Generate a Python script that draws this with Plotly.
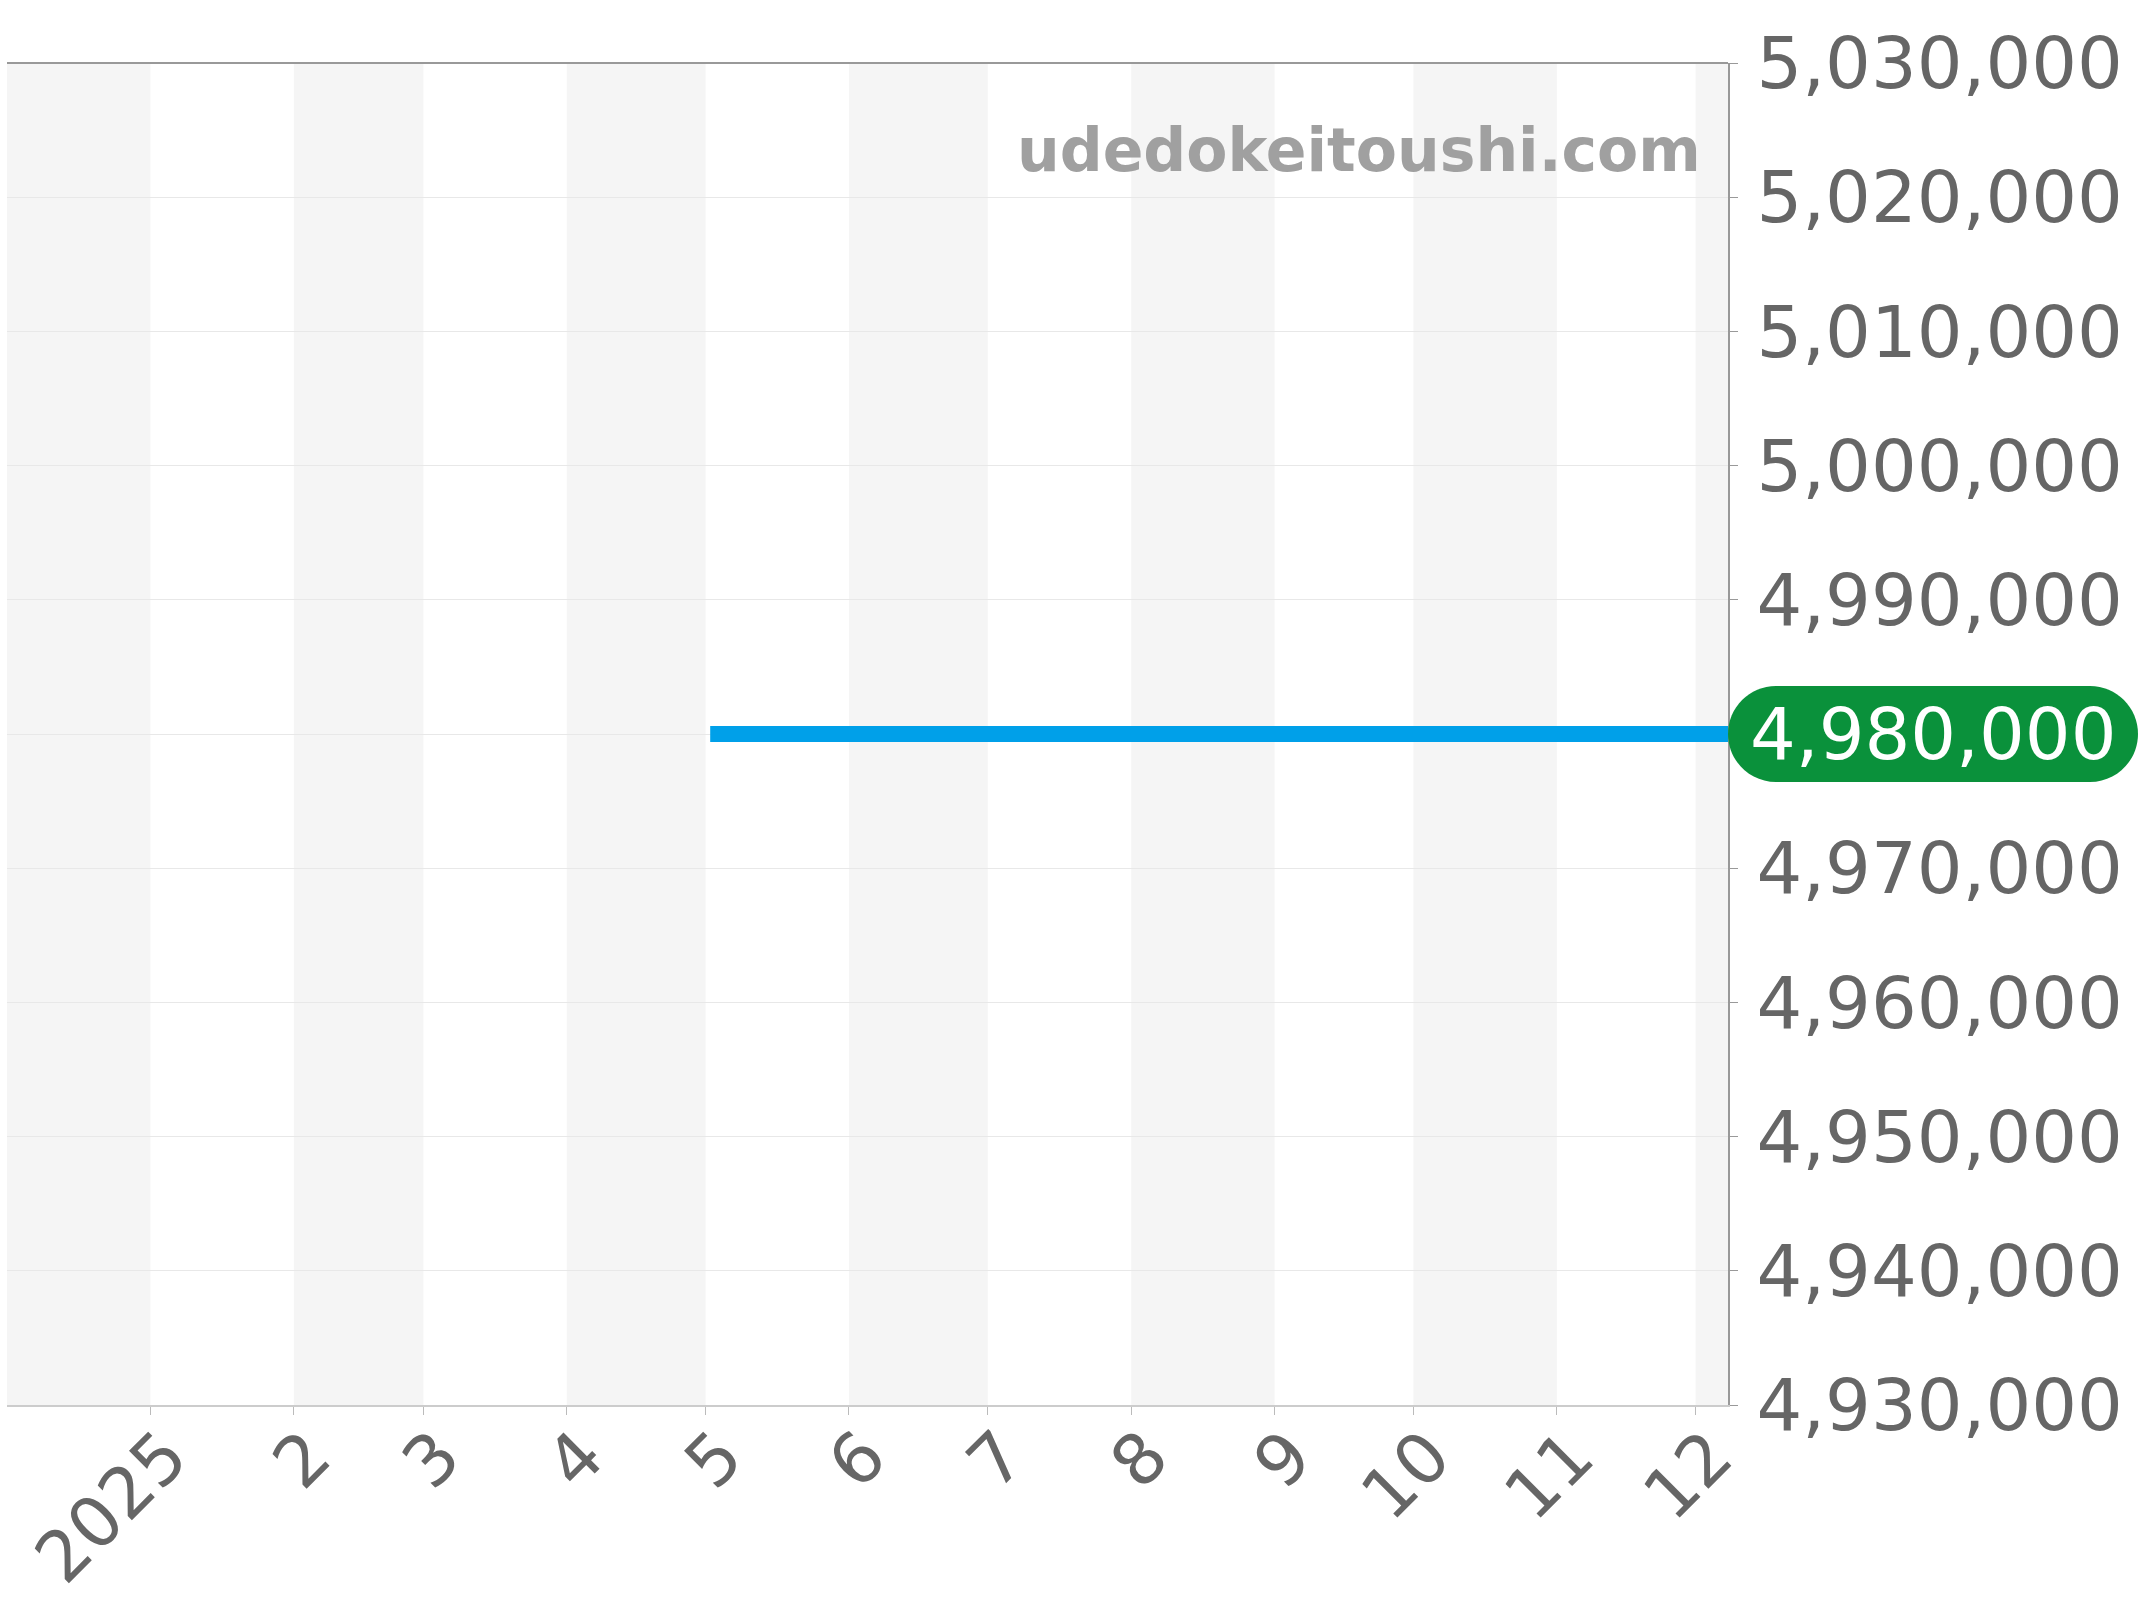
import plotly.graph_objects as go

# price history (one flat run from early May to the start of December)
dates = ['2025-05-02', '2025-06-01', '2025-07-01', '2025-08-01', '2025-09-01',
         '2025-10-01', '2025-11-01', '2025-12-01', '2025-12-08']
prices = [4980000, 4980000, 4980000, 4980000, 4980000,
          4980000, 4980000, 4980000, 4980000]

month_ticks = ['2025-01-01', '2025-02-01', '2025-03-01', '2025-04-01', '2025-05-01',
               '2025-06-01', '2025-07-01', '2025-08-01', '2025-09-01', '2025-10-01',
               '2025-11-01', '2025-12-01']
month_labels = ['2025', '2', '3', '4', '5', '6', '7', '8', '9', '10', '11', '12']

x_range = ['2024-12-01', '2025-12-08']
y_range = [4930000, 5030000]
y_ticks = [4930000 + 10000 * i for i in range(11)]

last_price = prices[-1]
font = 'DejaVu Sans'

# the latest price sits in the green pill, so its own tick label is left blank
y_labels = [f'{v:,}' if v != last_price else '' for v in y_ticks]

fig = go.Figure()

fig.add_trace(go.Scatter(
    x=dates, y=prices,
    mode='lines',
    line=dict(color='#00a0e9', width=16),
    hoverinfo='x+y',
    showlegend=False))

# alternating grey month bands
band_edges = [x_range[0]] + month_ticks + [x_range[1]]
for i in range(0, len(band_edges) - 1, 2):
    fig.add_shape(type='rect', xref='x', yref='paper',
                  x0=band_edges[i], x1=band_edges[i + 1], y0=0, y1=1,
                  fillcolor='#f5f5f5', line_width=0, layer='below')

# top border
fig.add_shape(type='line', xref='paper', yref='paper', x0=0, x1=1, y0=1, y1=1,
              line=dict(color='#999999', width=2))

# green pill behind the latest price
r = 48
w = 410
k = 26.5
pill = (f'M {r},{-r} H {w - r} C {w - r + k},{-r} {w},{-k} {w},0 '
        f'C {w},{k} {w - r + k},{r} {w - r},{r} H {r} '
        f'C {r - k},{r} 0,{k} 0,0 C 0,{-k} {r - k},{-r} {r},{-r} Z')
fig.add_shape(type='path', path=pill,
              xref='paper', xsizemode='pixel', xanchor=1,
              yref='y', ysizemode='pixel', yanchor=last_price,
              fillcolor='#0a913b', line_width=0)

fig.add_annotation(x=1, xref='paper', y=last_price, yref='y',
                   text=f'{last_price:,}', showarrow=False,
                   xanchor='center', yanchor='middle', xshift=w / 2,
                   font=dict(family=font, size=72, color='white'))

fig.add_annotation(x=1, xref='paper', y=0.935, yref='paper',
                   text='<b>udedokeitoushi.com</b>', showarrow=False,
                   xanchor='right', yanchor='middle', xshift=-25,
                   font=dict(family=font, size=60, color='#a0a0a0'))

fig.update_layout(
    width=2144, height=1600, autosize=False,
    margin=dict(l=7, r=416, t=63, b=195),
    plot_bgcolor='white', paper_bgcolor='white',
    font=dict(family=font, color='#666666'),
    xaxis=dict(
        type='date', range=x_range, automargin=False,
        tickvals=month_ticks, ticktext=month_labels,
        tickangle=-45, tickfont=dict(size=70, color='#666666'),
        ticklabelstandoff=-28, ticklabelshift=16,
        ticks='outside', ticklen=8, tickcolor='#bbbbbb',
        showline=True, linecolor='#cccccc', linewidth=2,
        showgrid=False, zeroline=False),
    yaxis=dict(
        range=y_range, side='right', automargin=False,
        tickvals=y_ticks, ticktext=y_labels,
        tickfont=dict(size=72, color='#666666'),
        ticks='outside', ticklen=8, tickcolor='#999999',
        ticklabelstandoff=4,
        showline=True, linecolor='#999999', linewidth=2,
        showgrid=True, gridcolor='#e8e8e8', gridwidth=1,
        zeroline=False))

fig.write_html('out.html', config={'displayModeBar': False},
               post_script="document.body.style.margin='0';")
